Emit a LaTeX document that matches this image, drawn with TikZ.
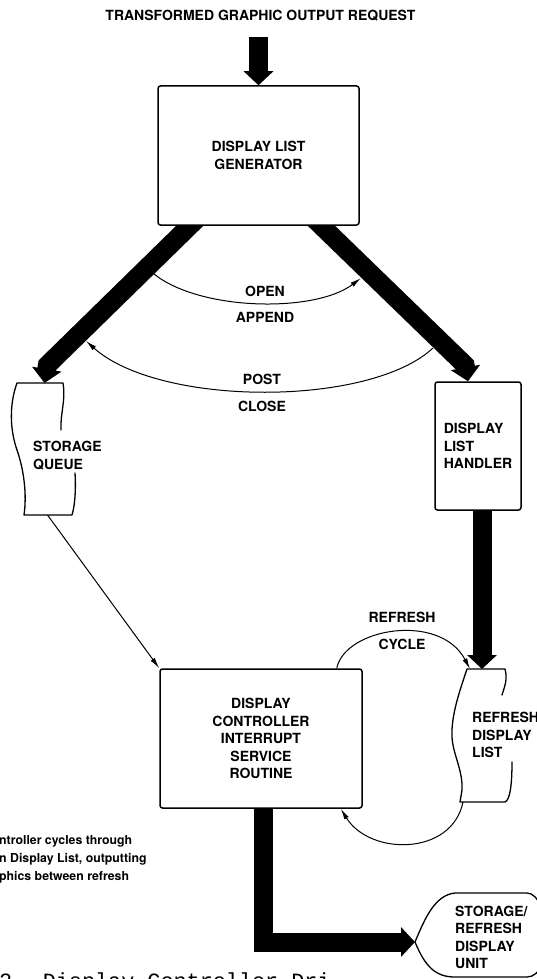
\documentclass[tikz,border=0pt]{standalone}
\usepackage{fontspec}
\setmainfont{TeX Gyre Heros}
\newfontfamily\typefont{Liberation Mono}
\usetikzlibrary{arrows.meta, positioning, backgrounds}

\begin{document}
\begin{tikzpicture}[
  x=1pt, y=-1pt,
  node distance=16pt,
  box/.style={draw, line width=1.5pt, fill=white, rounded corners=2.5pt,
              align=center, inner sep=0pt,
              font=\fontsize{14}{17.5}\selectfont\bfseries},
  zone/.style={inner sep=0pt, outer sep=0pt},
  lbl/.style={inner sep=0pt, font=\fontsize{14}{17.5}\selectfont\bfseries},
  note/.style={inner sep=0pt, align=left, font=\fontsize{12.3}{18}\selectfont\bfseries},
  wave/.style={line width=1.3pt, line join=round, line cap=round},
  bigarr/.style={line width=19pt, line join=miter, -{Triangle[length=14pt, width=29pt]}},
  arr/.style={line width=1pt, -{Latex[length=11pt, width=5pt]}}
]
  \useasboundingbox (0,0) rectangle (537,979);

  \node[lbl] (request) at (260.5,16) {TRANSFORMED GRAPHIC OUTPUT REQUEST};
  \node[box, minimum width=201pt, minimum height=139pt] (gen)  at (258.5,155.5) {DISPLAY LIST\\GENERATOR};
  \node[box, minimum width=86pt,  minimum height=128pt, align=left] (hand) at (478,446) {DISPLAY\\LIST\\HANDLER};
  \node[box, minimum width=202pt, minimum height=139pt] (ctrl) at (261,738.5) {DISPLAY\\CONTROLLER\\INTERRUPT\\SERVICE\\ROUTINE};

  % outlines drawn below, these only hold the anchors
  \node[zone, minimum width=55pt,  minimum height=132pt] (queue) at (44.5,449)  {};
  \node[zone, minimum width=60pt,  minimum height=133pt] (rlist) at (482,735.5) {};
  \node[zone, minimum width=125pt, minimum height=98pt]  (unit)  at (477.5,942) {};

  \node[lbl, align=left, anchor=west] (queuetxt) at (33,455.5)  {STORAGE\\QUEUE};
  \node[lbl, align=left, anchor=west] (rlisttxt) at (472,735)   {REFRESH\\DISPLAY\\LIST};
  \node[lbl, align=left, anchor=west] (unittxt)  at (455,937.5) {STORAGE/\\REFRESH\\DISPLAY\\UNIT};

  \node[lbl] (open)    at (265,291) {OPEN};
  \node[lbl, below=16pt of open]    (append)  {APPEND};
  \node[lbl] (post)    at (262,379) {POST};
  \node[lbl, below=16pt of post]    (close)   {CLOSE};
  \node[lbl] (refresh) at (402,617) {REFRESH};
  \node[lbl, below=16pt of refresh] (cycle)   {CYCLE};

  \node[note, anchor=west] (note) at (-1,859)
    {ntroller cycles through\\n Display List, outputting\\phics between refresh};
  \node[inner sep=0pt, anchor=base west, font=\typefont\fontsize{21.8}{24}\selectfont]
    (caption) at (-1,988) {2. Display Controller Dri};

  \coordinate (reqin) at (258.5,37);
  \coordinate (qbend) at (47.5,365);
  \coordinate (hbend) at (465,365);
  \coordinate (openL) at (154,274);
  \coordinate (openR) at (361,278);
  \coordinate (postR) at (433,348);
  \coordinate (postL) at (86,341);

  \begin{scope}[on background layer]
    \draw[bigarr] (reqin) -- (gen.north);
    \draw[bigarr] ([xshift=-58.5pt,yshift=10pt]gen.south) -- (qbend) -- (queue.north);
    \draw[bigarr] ([xshift=52.5pt,yshift=10pt]gen.south) -- (hbend) -- ([xshift=-10pt]hand.north);
    \draw[bigarr] (hand.south -| rlist.north) -- (rlist.north);
    \draw[bigarr] ([xshift=2pt,yshift=5pt]ctrl.south) |- (unit.west);
  \end{scope}

  \draw[arr] (openL) .. controls (200,311) and (315,313) .. (openR);
  \draw[arr] (postR) .. controls (370,407) and (160,407) .. (postL);
  \draw[arr] ([xshift=3pt]queue.south) -- (ctrl.north west);
  \draw[arr] ([xshift=-26pt]ctrl.north east) .. controls (345,628) and (440,612) .. ([xshift=-12pt]rlist.north);
  \draw[arr] ([xshift=-19pt]rlist.south) .. controls (452,856) and (370,856) .. ([xshift=-22pt]ctrl.south east);

  % storage queue
  \draw[wave] (61,430) .. controls (60,415) and (66,400) .. (63,383) -- (17,383)
    .. controls (9,405) and (10,430) .. (17,450) .. controls (24,470) and (27,495) .. (24,515)
    -- (72,515) .. controls (75,505) and (76,490) .. (75,473);
  % refresh display list
  \draw[wave] (502,695) .. controls (504,688) and (508,680) .. (505,669) -- (467,669)
    .. controls (460,690) and (451,715) .. (452,737) .. controls (453,755) and (463,770) .. (462,790)
    -- (460,802) -- (505,802) .. controls (510,800) and (512,785) .. (512,762);
  % storage/refresh display unit
  \draw[wave] (unit.west) .. controls (425,918) and (435,895) .. (455,893) -- (527,893)
    .. controls (550,893) and (555,977) .. (527,977) -- (455,977)
    .. controls (435,977) and (425,966) .. (unit.west);
\end{tikzpicture}
\end{document}
